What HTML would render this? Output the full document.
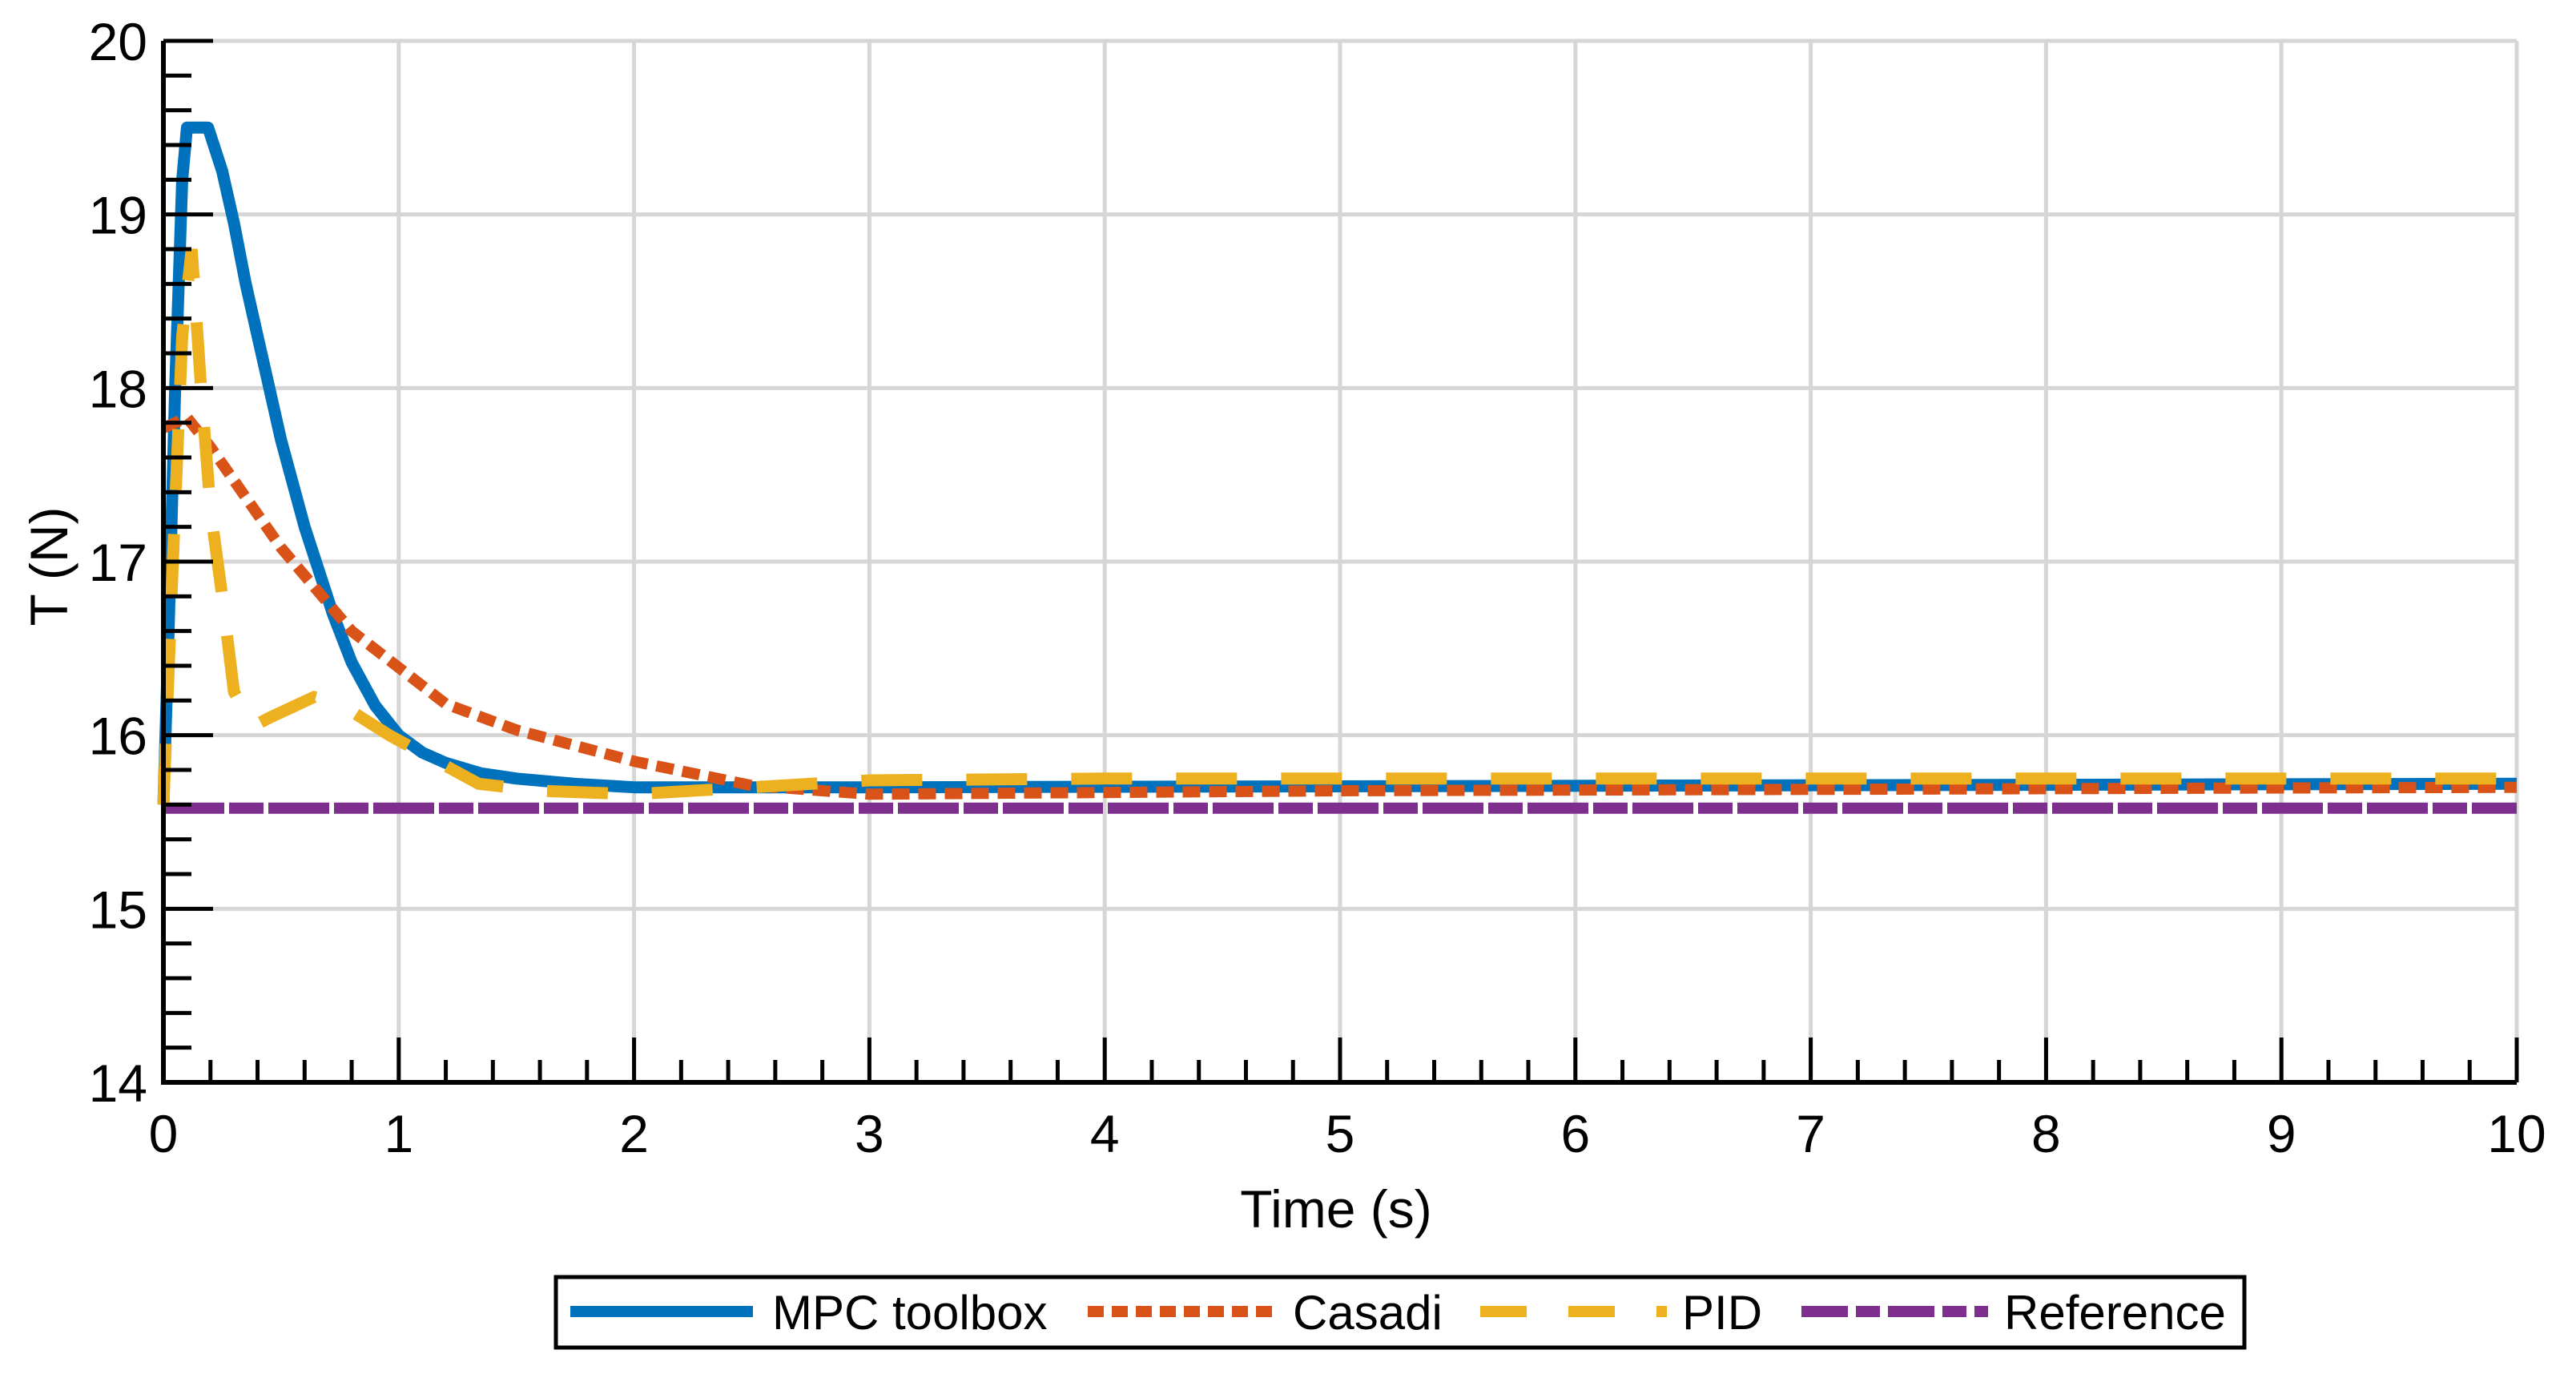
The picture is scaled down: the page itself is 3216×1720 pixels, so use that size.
<!DOCTYPE html>
<html><head><meta charset="utf-8"><style>
html,body{margin:0;padding:0;background:#fff;}
svg{display:block;font-family:"Liberation Sans",Arial,sans-serif;}
</style></head><body>
<svg id="chart" width="3216" height="1720" viewBox="0 0 3216 1720" xmlns="http://www.w3.org/2000/svg">
<g id="grid"></g>
<g id="series"></g>
<g id="axes"></g>
<text x="0" y="0" transform="translate(84,707) rotate(-90)" text-anchor="middle" font-size="66" fill="#000">T (N)</text>
<text x="1668" y="1532" text-anchor="middle" font-size="66" fill="#000">Time (s)</text>
<g>
<rect x="694" y="1594" width="2108" height="88" fill="#fff" stroke="#000" stroke-width="5"/>
<g>
<line x1="712" y1="1637" x2="940" y2="1637" stroke="#0072BD" stroke-width="14"/>
<text x="964" y="1659" font-size="60">MPC toolbox</text></g>
<g>
<line x1="1358" y1="1637" x2="1592" y2="1637" stroke="#D95319" stroke-width="14" stroke-dasharray="20 10"/>
<text x="1614" y="1659" font-size="60">Casadi</text></g>
<g>
<line x1="1848" y1="1637" x2="2081" y2="1637" stroke="#EDB120" stroke-width="14" stroke-dasharray="58 52"/>
<text x="2100" y="1659" font-size="60">PID</text></g>
<g>
<line x1="2249" y1="1637" x2="2482" y2="1637" stroke="#7E2F8E" stroke-width="14" stroke-dasharray="58 10 30 10"/>
<text x="2502" y="1659" font-size="60">Reference</text></g>
</g>
</svg>
<script>
const xTicks = [0,1,2,3,4,5,6,7,8,9,10];
const yTicks = [14,15,16,17,18,19,20];
const mpcT = [0,0.02,0.05,0.08,0.1,0.19,0.25,0.3,0.35,0.4,0.45,0.5,0.55,0.6,0.66,0.72,0.8,0.9,1.0,1.1,1.2,1.35,1.5,1.75,2,3,10];
const mpcV = [15.6,16.5,18,19.2,19.5,19.5,19.25,18.95,18.6,18.3,18.0,17.7,17.45,17.2,16.95,16.7,16.42,16.17,16.0,15.9,15.84,15.78,15.75,15.72,15.7,15.7,15.72];
const casT = [0,0.1,0.2,0.5,0.8,1.2,1.5,2,2.5,3,4,5,10];
const casV = [17.77,17.83,17.66,17.08,16.6,16.18,16.03,15.85,15.71,15.66,15.67,15.68,15.7];
const pidT = [0,0.04,0.08,0.12,0.16,0.2,0.25,0.3,0.38,0.45,0.64,0.75,0.96,1.34,1.6,2,2.5,3,4,5,10];
const pidV = [15.6,17.0,18.3,18.8,18.0,17.3,16.8,16.25,16.05,16.1,16.22,16.18,16.0,15.72,15.68,15.66,15.7,15.74,15.75,15.75,15.75];
const refT = [0,10];
const refV = [15.58,15.58];

const X0=204, X1=3142, Y0=1351, Y1=51;
const sx = t => X0 + (t-0)/(10-0)*(X1-X0);
const sy = v => Y0 - (v-14)/(20-14)*(Y0-Y1);
const NS="http://www.w3.org/2000/svg";
function mk(tag, attrs, parent){const e=document.createElementNS(NS,tag);for(const k in attrs)e.setAttribute(k,attrs[k]);parent.appendChild(e);return e;}
const grid=document.getElementById('grid'), axes=document.getElementById('axes'), series=document.getElementById('series');

xTicks.forEach(t=>{
  const g=mk('line',{x1:sx(t),y1:Y1,x2:sx(t),y2:Y0,stroke:'#d6d6d6','stroke-width':5},grid);
  
  
  const tk=mk('line',{x1:sx(t),y1:Y0,x2:sx(t),y2:Y0-56,stroke:'#000','stroke-width':5},axes);
  
  
  const lb=mk('text',{x:sx(t),y:Y0+87,'text-anchor':'middle','font-size':66},axes);
  lb.textContent=t;
  
  
});
for(let i=0;i<50;i++){ if(i%5===0) continue; const t=i*0.2;
  const tk=mk('line',{x1:sx(t),y1:Y0,x2:sx(t),y2:Y0-28,stroke:'#000','stroke-width':5},axes);
  
  
}
yTicks.forEach(v=>{
  const g=mk('line',{x1:X0,y1:sy(v),x2:X1,y2:sy(v),stroke:'#d6d6d6','stroke-width':5},grid);
  
  
  const tk=mk('line',{x1:X0,y1:sy(v),x2:X0+62,y2:sy(v),stroke:'#000','stroke-width':5},axes);
  
  
  const lb=mk('text',{x:184,y:sy(v)+24,'text-anchor':'end','font-size':66},axes);
  lb.textContent=v;
  
  
});
for(let i=0;i<30;i++){ if(i%5===0) continue; const v=14+i*0.2;
  const tk=mk('line',{x1:X0,y1:sy(v),x2:X0+35,y2:sy(v),stroke:'#000','stroke-width':5},axes);
  
  
}
const xa=mk('line',{x1:X0-3,y1:Y0,x2:X1,y2:Y0,stroke:'#000','stroke-width':6},axes);


const ya=mk('line',{x1:X0,y1:Y0+3,x2:X0,y2:Y1,stroke:'#000','stroke-width':6},axes);



function path(T,V){return T.map((t,i)=>(i?'L':'M')+sx(t).toFixed(1)+','+sy(V[i]).toFixed(1)).join(' ');}
const r=mk('path',{d:path(refT,refV),fill:'none',stroke:'#7E2F8E','stroke-width':14,'stroke-dasharray':'76 6 43 6'},series);


const m=mk('path',{d:path(mpcT,mpcV),fill:'none',stroke:'#0072BD','stroke-width':15,'stroke-linejoin':'round'},series);


const c=mk('path',{d:path(casT,casV),fill:'none',stroke:'#D95319','stroke-width':14,'stroke-dasharray':'22 11'},series);


const p=mk('path',{d:path(pidT,pidV),fill:'none',stroke:'#EDB120','stroke-width':15,'stroke-dasharray':'76 55'},series);


</script>
</body></html>
